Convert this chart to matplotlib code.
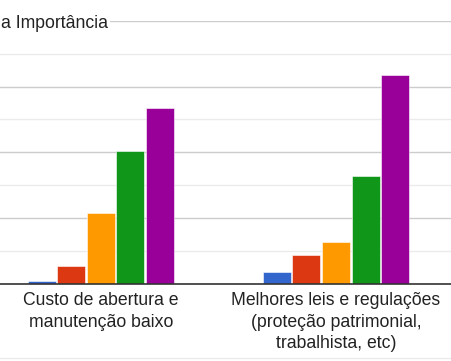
import matplotlib
matplotlib.use("Agg")
import matplotlib.pyplot as plt
import numpy as np

categories = ["Custo de abertura e\nmanutenção baixo",
              "Melhores leis e regulações\n(proteção patrimonial,\ntrabalhista, etc)"]
levels = ["1", "2", "3", "4", "5"]
values_1 = [2, 14, 54, 101, 134]
values_2 = [9, 22, 32, 82, 159]
colors = ["#3366cc", "#dc3912", "#ff9900", "#109618", "#990099"]
title_text = "a Importância"

plt.rcParams['font.family'] = ['Liberation Sans', 'DejaVu Sans']

W, H = 452, 361
fig = plt.figure(figsize=(W / 100, H / 100), dpi=100)
bottom = (H - 284) / H
top = (H - 20.7) / H
ax = fig.add_axes([0, bottom, 1, top - bottom])

x = np.arange(len(categories))
step = 0.1254
width = 0.119
series = np.array([values_1, values_2]).T
for i, (lvl, col) in enumerate(zip(levels, colors)):
    ax.bar(x + (i - 2) * step, series[i], width=width, color=col,
           edgecolor="white", linewidth=0.4, zorder=3, label=lvl)

ax.set_ylim(0, 200)
ax.set_xlim(-0.428, 1.493)
ax.set_yticks(np.arange(0, 201, 50))
ax.set_yticks(np.arange(25, 200, 50), minor=True)
ax.grid(axis='y', which='major', color='#cccccc', linewidth=1.0, zorder=0)
ax.grid(axis='y', which='minor', color='#ebebeb', linewidth=1.0, zorder=0)
ax.tick_params(axis='y', which='both', left=False, labelleft=False)
ax.set_xticks(x)
ax.set_xticklabels(categories, fontsize=12.7, color='#222222', linespacing=1.33)
ax.tick_params(axis='x', length=0, pad=6)
for s in ['top', 'left', 'right']:
    ax.spines[s].set_visible(False)
ax.spines['bottom'].set_color('#333333')
ax.spines['bottom'].set_linewidth(1.2)
ax.spines['bottom'].set_zorder(4)

fig.text(0.002, (H - 23) / H, title_text, fontsize=12.7, color='#222222',
         ha='left', va='center',
         bbox=dict(facecolor='white', edgecolor='none', pad=1.5))

fig.add_artist(plt.Line2D([0, 1], [(H - 358) / H] * 2, color='#ebebeb',
                          linewidth=1.0, transform=fig.transFigure))

fig.savefig("out.png", dpi=100)
